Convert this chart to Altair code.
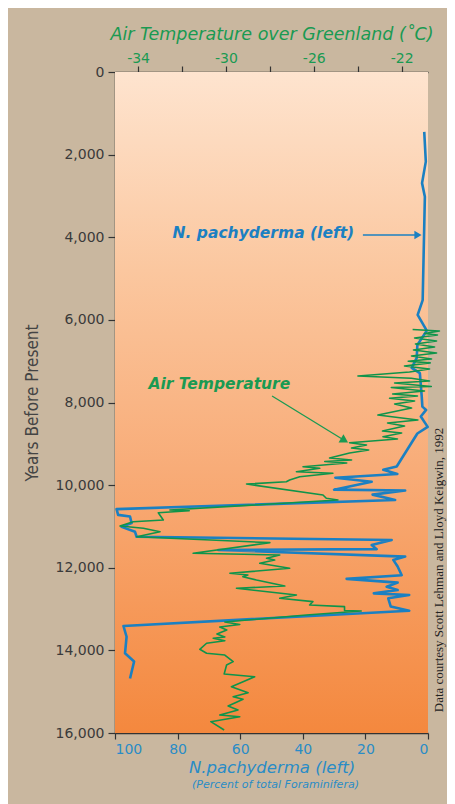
import altair as alt
import pandas as pd

# ---------------- data ----------------
# N. pachyderma (percent of total Foraminifera) vs years before present
pach_year = [1450, 2170, 2690, 3020, 5520, 5880, 6260, 6610, 6920, 7160,
             7290, 7860, 8100, 8180, 8340, 8590, 8750, 9550, 9630, 9730,
             9820, 9920, 10110, 10130, 10230, 10360, 10580, 10720, 10760, 10920,
             11010, 11130, 11250, 11330, 11450, 11550, 11570, 11730, 11810, 11970,
             12180, 12270, 12360, 12460, 12540, 12620, 12660, 12740, 12940, 13040,
             13410, 13670, 14070, 14270, 14680]
pach_pct = [1.2, 0.7, 1.9, 1.0, 1.7, 3.3, 0.4, 3.4, 3.6, 5.2,
            2.6, 2.0, 1.8, 0.6, 2.3, 0.1, 3.4, 10.0, 14.3, 9.8,
            29.6, 18.0, 30.0, 7.3, 17.7, 10.5, 99.5, 99.0, 95.2, 94.7,
            97.9, 93.6, 93.1, 11.6, 18.0, 16.4, 67.0, 7.3, 11.1, 9.7,
            8.4, 26.0, 9.7, 13.2, 9.7, 17.3, 6.0, 12.7, 11.9, 6.0,
            97.3, 96.3, 96.8, 93.9, 95.2]

# Air temperature over Greenland (deg C) vs years before present
temp_year = [6233, 6269, 6330, 6366, 6439, 6511, 6584, 6656, 6729, 6802,
             6874, 6947, 7000, 7040, 7116, 7189, 7262, 7358, 7414, 7479,
             7528, 7612, 7637, 7721, 7794, 7842, 7898, 7963, 8036, 8133,
             8302, 8423, 8496, 8569, 8690, 8738, 8828, 8883, 8973, 9028,
             9101, 9149, 9222, 9343, 9392, 9428, 9464, 9554, 9593, 9675,
             9714, 9796, 9876, 9917, 9973, 10239, 10319, 10360, 10602, 10619,
             10667, 10844, 10885, 10989, 11045, 11127, 11248, 11393, 11650, 11691,
             11771, 11812, 11892, 12013, 12134, 12175, 12216, 12296, 12441, 12497,
             12659, 12739, 12821, 12901, 12942, 13034, 13047, 13143, 13313, 13373,
             13434, 13506, 13603, 13675, 13707, 13765, 13828, 13974, 14070, 14112,
             14273, 14353, 14571, 14637, 14879, 15024, 15121, 15184, 15346, 15442,
             15563, 15605, 15726, 15927]
temp_c = [-21.50, -20.28, -20.96, -20.37, -21.41, -20.41, -21.37, -20.50, -21.46, -20.41,
          -21.55, -20.64, -21.70, -20.70, -21.87, -20.73, -21.64, -23.99, -21.56, -20.73,
          -22.32, -20.65, -22.47, -20.96, -22.41, -21.28, -22.55, -21.41, -22.32, -21.55,
          -23.08, -21.26, -22.64, -21.87, -22.87, -22.00, -22.85, -22.19, -24.37, -23.60,
          -24.28, -23.50, -24.37, -25.28, -24.28, -25.50, -24.50, -26.49, -25.73, -26.79,
          -25.13, -26.64, -27.10, -27.25, -29.06, -25.58, -25.43, -24.90, -32.55, -31.67,
          -33.08, -32.85, -34.22, -34.82, -33.76, -33.00, -34.06, -28.00, -31.49, -27.55,
          -28.15, -27.78, -28.46, -27.10, -29.82, -29.00, -29.23, -28.61, -27.32, -29.52,
          -26.79, -27.55, -26.04, -26.19, -24.60, -24.60, -23.84, -26.34, -30.05, -29.37,
          -30.28, -29.96, -30.41, -30.05, -30.58, -30.05, -30.88, -31.19, -30.88, -30.05,
          -29.67, -29.97, -30.08, -28.69, -29.75, -28.99, -29.67, -29.22, -29.90, -29.45,
          -30.28, -29.37, -30.69, -30.08]

year_ticks = list(range(0, 16001, 2000))
pct_ticks = [0, 20, 40, 60, 80, 100]
temp_ticks = [-34, -32, -30, -28, -26, -24, -22]

# annotation positions (data units)
pach_label = {"pct": [52.6], "year": [3900], "text": ["N. pachyderma (left)"]}
pach_arrow = {"pct": [20.8], "pct2": [3.2], "year": [3945]}
temp_label = {"temp": [-30.3], "year": [7560], "text": ["Air Temperature"]}
temp_arrow = {"temp": [-27.9], "temp2": [-24.6], "year": [7842], "year2": [8920]}

BLUE = "#1b80c2"
BLUE_TXT = "#2a8cc6"
GREEN = "#0f944a"
GREEN_TXT = "#1a9a52"
DARK = "#333333"
CONDENSED = "'Liberation Sans Narrow', 'DejaVu Sans Condensed', 'Roboto Condensed', 'Arial Narrow', Roboto, sans-serif"

pach_df = pd.DataFrame({"year": pach_year, "pct": pach_pct, "i": range(len(pach_year))})
temp_df = pd.DataFrame({"year": temp_year, "temp": temp_c, "i": range(len(temp_year))})

W, H = 313, 661

y_enc = alt.Y(
    "year:Q",
    scale=alt.Scale(domain=[0, 16000], reverse=True, nice=False),
    axis=alt.Axis(
        values=year_ticks, format=",d", title="Years Before Present",
        labelFont="DejaVu Sans", labelFontSize=14, labelColor="#3a3a3a",
        tickSize=7, tickColor=DARK, tickWidth=1.2, domainColor=DARK, domainWidth=1.5,
        labelPadding=4, grid=False,
        titleFont=CONDENSED, titleFontSize=17, titleFontWeight="normal",
        titleColor="#444444", titlePadding=14,
    ),
)

x_pct = alt.X(
    "pct:Q",
    scale=alt.Scale(domain=[100, 0], nice=False, zero=False),
    axis=alt.Axis(
        orient="bottom", values=pct_ticks, format="d", title="N.pachyderma (left)",
        labelFont="DejaVu Sans", labelFontSize=14, labelColor=BLUE_TXT,
        tickSize=6, tickColor=DARK, tickWidth=1.2, domainColor=DARK, domainWidth=1.5,
        labelPadding=3, grid=False,
        titleFont="DejaVu Sans", titleFontSize=16.5, titleFontStyle="italic",
        titleFontWeight="normal", titleColor=BLUE_TXT, titlePadding=3,
    ),
)

x_temp = alt.X(
    "temp:Q",
    scale=alt.Scale(domain=[-35.05, -20.8], nice=False, zero=False),
    axis=alt.Axis(
        orient="top", values=temp_ticks,
        labelExpr="abs(datum.value) % 4 == 2 ? '-' + abs(datum.value) : ''",
        title="Air Temperature over Greenland (˚C)",
        labelFont="DejaVu Sans", labelFontSize=14, labelColor=GREEN_TXT,
        tickSize=6, tickColor=DARK, tickWidth=1.2, domainColor=DARK, domainWidth=1.5,
        labelPadding=1, grid=False,
        titleFont="DejaVu Sans", titleFontSize=17.5, titleFontStyle="italic",
        titleFontWeight="normal", titleColor=GREEN_TXT, titlePadding=8,
    ),
)

grad = alt.Gradient(
    gradient="linear",
    stops=[
        alt.GradientStop(color="#fee4cf", offset=0),
        alt.GradientStop(color="#fbc79f", offset=0.3),
        alt.GradientStop(color="#f8ac78", offset=0.6),
        alt.GradientStop(color="#f4883e", offset=1),
    ],
    x1=0, x2=0, y1=0, y2=1,
)

bg = alt.Chart(pd.DataFrame({"a": [0]})).mark_rect(fill=grad).encode(
    x=alt.value(0), x2=alt.value(W), y=alt.value(0), y2=alt.value(H)
)

blue_line = alt.Chart(pach_df).mark_line(color=BLUE, strokeWidth=2.6, strokeJoin="round").encode(
    x=x_pct, y=y_enc, order="i:Q"
)

blue_text = alt.Chart(pd.DataFrame(pach_label)).mark_text(
    color=BLUE, font="DejaVu Sans", fontSize=15.5, fontStyle="italic", fontWeight="bold"
).encode(x=alt.X("pct:Q"), y=alt.Y("year:Q"), text="text:N")

blue_rule = alt.Chart(pd.DataFrame(pach_arrow)).mark_rule(color=BLUE, strokeWidth=1.3).encode(
    x=alt.X("pct:Q"), x2="pct2:Q", y=alt.Y("year:Q")
)
blue_head = alt.Chart(pd.DataFrame(pach_arrow)).mark_point(
    shape="triangle-right", filled=True, color=BLUE, size=70, opacity=1
).encode(x=alt.X("pct2:Q"), y=alt.Y("year:Q"))

green_line = alt.Chart(temp_df).mark_line(color=GREEN, strokeWidth=1.6, strokeJoin="round").encode(
    x=x_temp, y=y_enc, order="i:Q"
)
green_text = alt.Chart(pd.DataFrame(temp_label)).mark_text(
    color=GREEN_TXT, font="DejaVu Sans", fontSize=15.5, fontStyle="italic", fontWeight="bold"
).encode(x=alt.X("temp:Q"), y=alt.Y("year:Q"), text="text:N")
green_rule = alt.Chart(pd.DataFrame(temp_arrow)).mark_rule(color=GREEN_TXT, strokeWidth=1.3).encode(
    x=alt.X("temp:Q"), x2="temp2:Q", y=alt.Y("year:Q"), y2="year2:Q"
)
green_head = alt.Chart(pd.DataFrame(temp_arrow)).mark_point(
    shape="triangle-right", filled=True, color=GREEN_TXT, size=90, opacity=1, angle=31
).encode(x=alt.X("temp2:Q"), y=alt.Y("year2:Q"))

note = alt.Chart(pd.DataFrame({"t": ["Data courtesy Scott Lehman and Lloyd Keigwin, 1992"]})).mark_text(
    angle=270, font="Liberation Serif", fontSize=13, color="#222222"
).encode(x=alt.value(W + 11), y=alt.value(498), text="t:N")

subtitle = alt.Chart(pd.DataFrame({"t": ["(Percent of total Foraminifera)"]})).mark_text(
    font="DejaVu Sans", fontSize=11, fontStyle="italic", color=BLUE_TXT
).encode(x=alt.value(W / 2 + 4), y=alt.value(H + 52), text="t:N")

blue_group = alt.layer(bg, blue_line, blue_text, blue_rule, blue_head, note, subtitle)
green_group = alt.layer(green_line, green_text, green_rule, green_head)

chart = (
    alt.layer(blue_group, green_group)
    .resolve_scale(x="independent")
    .properties(
        width=W, height=H,
        autosize=alt.AutoSizeParams(type="none"),
        padding={"left": 107, "top": 64, "right": 19, "bottom": 71},
        background="#c9b79f",
    )
    .configure_view(stroke=None)
)

chart.save("out.html", embed_options={"renderer": "svg", "actions": False})
